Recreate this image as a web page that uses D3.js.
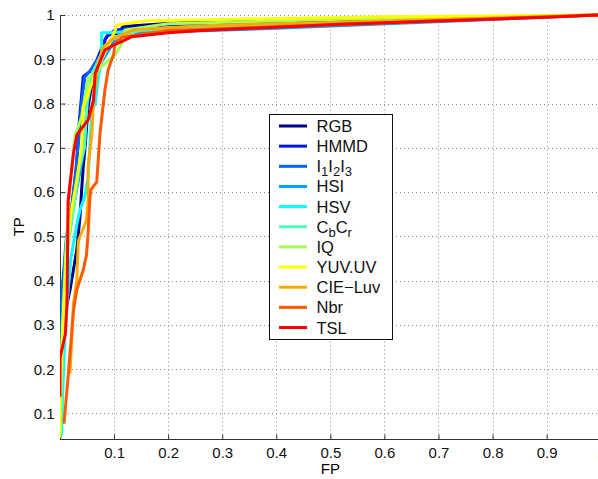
<!DOCTYPE html>
<html>
<head>
<meta charset="utf-8">
<script src="https://cdn.jsdelivr.net/npm/d3@7"></script>
<style>
  body { margin: 0; background: #fff; }
  svg { display: block; font-family: "Liberation Sans", Arial, sans-serif; }
</style>
</head>
<body>
<div id="chart"></div>
<script>
// ROC curves, one [FP, TP] list per colour space
const RGB    = [[0,0.045],[0.002,0.2],[0.005,0.3],[0.0185,0.379],[0.031,0.469],[0.037,0.544],[0.04,0.605],[0.043,0.657],[0.046,0.695],[0.052,0.793],[0.062,0.868],[0.074,0.906],[0.083,0.944],[0.089,0.955],[0.107,0.959],[0.117,0.974],[0.26,0.986],[0.52,0.987],[1,1]];
const HMMD   = [[0,0.045],[0.003,0.3],[0.01,0.46],[0.02,0.55],[0.03,0.65],[0.035,0.75],[0.04,0.82],[0.043,0.861],[0.055,0.872],[0.068,0.898],[0.086,0.951],[0.102,0.966],[0.2,0.978],[0.5,0.985],[1,1]];
const I1I2I3 = [[0,0.05],[0.004,0.38],[0.012,0.5],[0.025,0.6],[0.035,0.72],[0.04,0.8],[0.046,0.86],[0.06,0.88],[0.075,0.91],[0.095,0.945],[0.13,0.965],[0.3,0.975],[0.6,0.985],[1,1]];
const HSI    = [[0,0.05],[0.005,0.35],[0.015,0.5],[0.03,0.6],[0.045,0.7],[0.05,0.8],[0.06,0.86],[0.08,0.9],[0.1,0.94],[0.15,0.96],[0.4,0.97],[1,1]];
const HSV    = [[0.003,0.05],[0.005,0.15],[0.01,0.3],[0.02,0.45],[0.03,0.52],[0.037,0.56],[0.046,0.59],[0.052,0.635],[0.059,0.785],[0.065,0.8],[0.071,0.86],[0.077,0.9],[0.077,0.96],[0.092,0.96],[0.15,0.965],[0.4,0.975],[1,1]];
const CbCr   = [[0,0.05],[0.006,0.3],[0.015,0.48],[0.025,0.56],[0.035,0.65],[0.045,0.7],[0.05,0.8],[0.06,0.87],[0.08,0.92],[0.1,0.95],[0.15,0.967],[0.5,0.98],[1,1]];
const IQ     = [[0,0.06],[0.004,0.25],[0.01,0.45],[0.018,0.6],[0.025,0.7],[0.028,0.728],[0.04,0.77],[0.052,0.857],[0.074,0.88],[0.102,0.91],[0.115,0.937],[0.12,0.966],[0.2,0.98],[0.5,0.99],[1,1]];
const YUVUV  = [[0,0.045],[0,0.138],[0.005,0.3],[0.012,0.45],[0.02,0.55],[0.03,0.62],[0.04,0.7],[0.043,0.793],[0.059,0.846],[0.074,0.891],[0.102,0.966],[0.105,0.977],[0.123,0.981],[0.16,0.987],[0.3,0.99],[0.6,0.996],[1,1]];
const CIELuv = [[0.0185,0.19],[0.025,0.35],[0.031,0.40],[0.034,0.49],[0.049,0.537],[0.052,0.582],[0.052,0.657],[0.059,0.733],[0.062,0.808],[0.071,0.891],[0.08,0.928],[0.099,0.947],[0.136,0.966],[0.26,0.976],[0.5,0.983],[1,1]];
const Nbr    = [[0.0074,0.077],[0.015,0.183],[0.025,0.333],[0.031,0.379],[0.043,0.424],[0.049,0.458],[0.052,0.507],[0.055,0.582],[0.057,0.605],[0.068,0.623],[0.074,0.733],[0.083,0.83],[0.089,0.876],[0.099,0.91],[0.102,0.936],[0.115,0.95],[0.2,0.965],[0.5,0.978],[1,1]];
const TSL    = [[0,0.138],[0,0.225],[0.01,0.28],[0.013,0.35],[0.015,0.58],[0.025,0.688],[0.031,0.729],[0.052,0.763],[0.062,0.808],[0.065,0.868],[0.083,0.921],[0.099,0.932],[0.114,0.94],[0.133,0.951],[0.2,0.96],[0.26,0.965],[0.52,0.979],[0.9,0.995],[1,1]];

const curves = [RGB, HMMD, I1I2I3, HSI, HSV, CbCr, IQ, YUVUV, CIELuv, Nbr, TSL];
// legend names: [text, isSubscript] pieces so the subscripts can be drawn
const names = [
  [["RGB",0]], [["HMMD",0]], [["I",0],["1",1],["I",0],["2",1],["I",0],["3",1]],
  [["HSI",0]], [["HSV",0]], [["C",0],["b",1],["C",0],["r",1]], [["IQ",0]],
  [["YUV.UV",0]], [["CIE\u2212Luv",0]], [["Nbr",0]], [["TSL",0]]
];
const colors = ["#00008c","#0018ee","#0062ff","#00a2ff","#00ffff","#4cffb4","#a4ff5a","#ffff00","#ffaa00","#ff5a00","#ff0000"];
const xTicks = [0.1,0.2,0.3,0.4,0.5,0.6,0.7,0.8,0.9,1];
const yTicks = [0.1,0.2,0.3,0.4,0.5,0.6,0.7,0.8,0.9,1];

const W = 598, H = 479;
const margin = {left: 60, top: 15};
const plotW = 540.7, plotH = 423.5;
const fontTick = "15px", fontLegend = "16.5px";

const x = d3.scaleLinear().domain([0, 1]).range([margin.left, margin.left + plotW]);
const y = d3.scaleLinear().domain([0.0435, 1]).range([margin.top + plotH, margin.top]);

const svg = d3.select("#chart").append("svg")
    .attr("width", W)
    .attr("height", H)
    .style("font-size", fontTick);

// dotted grid
const grid = svg.append("g").attr("stroke", "#8c8c8c").attr("stroke-width", 1)
    .attr("stroke-dasharray", "1,3");
grid.selectAll(".gx").data(xTicks).join("line")
    .attr("x1", d => Math.round(x(d)) + 0.5).attr("x2", d => Math.round(x(d)) + 0.5)
    .attr("y1", y.range()[0]).attr("y2", y.range()[1]);
grid.selectAll(".gy").data(yTicks).join("line")
    .attr("y1", d => Math.round(y(d)) + 0.5).attr("y2", d => Math.round(y(d)) + 0.5)
    .attr("x1", x.range()[0]).attr("x2", x.range()[1]);

// axes, ticks pointing inward like matlab
const fmt = d => d === 1 ? "1" : d3.format(".1f")(d);
const xAxis = d3.axisBottom(x).tickValues(xTicks).tickSize(-5).tickPadding(8).tickFormat(fmt);
const yAxis = d3.axisLeft(y).tickValues(yTicks).tickSize(-5).tickPadding(6).tickFormat(fmt);

const gx = svg.append("g").attr("transform", `translate(0,${Math.round(y.range()[0]) + 0.5})`).call(xAxis);
const gy = svg.append("g").attr("transform", `translate(${margin.left + 0.5},0)`).call(yAxis);
[gx, gy].forEach(g => {
  g.select(".domain").remove();
  g.selectAll(".tick line").attr("stroke", "#333");
  g.selectAll(".tick text").attr("fill", "#111").style("font-size", fontTick)
    .style("font-family", "'Liberation Sans', Arial, sans-serif");
});
svg.append("line").attr("x1", margin.left + 0.5).attr("x2", margin.left + 0.5)
    .attr("y1", y.range()[1]).attr("y2", y.range()[0] + 0.5).attr("stroke", "#333");
svg.append("line").attr("x1", margin.left).attr("x2", W)
    .attr("y1", Math.round(y.range()[0]) + 0.5).attr("y2", Math.round(y.range()[0]) + 0.5).attr("stroke", "#333");

// curves
svg.append("clipPath").attr("id", "clip").append("rect")
    .attr("x", margin.left).attr("y", margin.top - 2).attr("width", plotW).attr("height", plotH + 2);

const line = d3.line().x(d => x(d[0])).y(d => y(d[1]));
svg.append("g").attr("clip-path", "url(#clip)")
  .selectAll("path").data(curves).join("path")
    .attr("d", line)
    .attr("fill", "none")
    .attr("stroke", (d, i) => colors[i])
    .attr("stroke-width", 3)
    .attr("stroke-linejoin", "round");

// axis titles
svg.append("text").attr("x", x(0.5)).attr("y", 474).attr("text-anchor", "middle").text("FP");
svg.append("text").attr("transform", `translate(24,${(y.range()[0] + y.range()[1]) / 2}) rotate(-90)`)
    .attr("text-anchor", "middle").text("TP");

// legend
const lg = svg.append("g").style("font-size", fontLegend);
lg.append("rect").attr("x", 269.5).attr("y", 114.5).attr("width", 123).attr("height", 225)
    .attr("fill", "#fff").attr("stroke", "#111");
const rows = lg.selectAll(".row").data(names).join("g")
    .attr("transform", (d, i) => `translate(0,${126 + i * 20.15})`);
rows.append("line").attr("x1", 279).attr("x2", 307)
    .attr("stroke", (d, i) => colors[i]).attr("stroke-width", 3);
rows.each(function(parts) {
  const t = d3.select(this).append("text").attr("x", 316.5).attr("y", 6).attr("fill", "#111");
  let shifted = false;
  parts.forEach(([s, sub]) => {
    const ts = t.append("tspan").text(s);
    if (sub && !shifted) { ts.attr("dy", 4).style("font-size", "13px"); shifted = true; }
    else if (!sub && shifted) { ts.attr("dy", -4); shifted = false; }
    else if (sub) ts.style("font-size", "13px");
  });
});
</script>
</body>
</html>
